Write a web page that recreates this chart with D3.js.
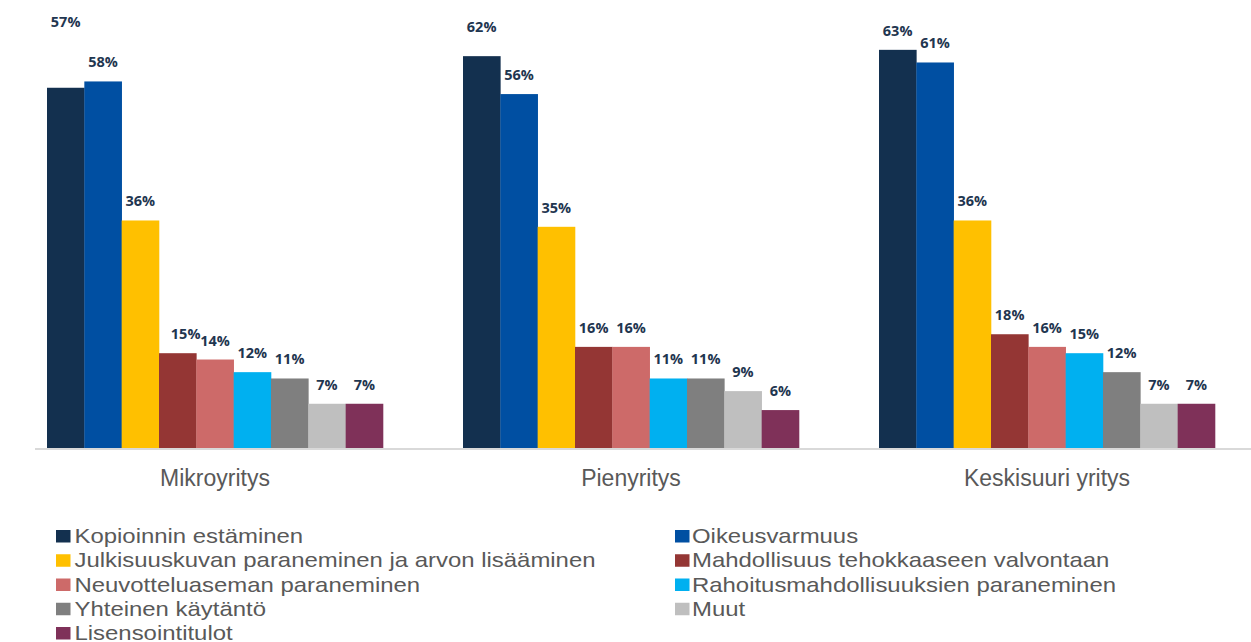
<!DOCTYPE html>
<html><head><meta charset="utf-8">
<script src="https://cdn.jsdelivr.net/npm/d3@7"></script>
<style>body{margin:0;background:#fff}svg{display:block}</style>
</head><body><svg id="c" width="1251" height="642"></svg>
<script>
const groups = ["Mikroyritys", "Pienyritys", "Keskisuuri yritys"];
const series = ["Kopioinnin estäminen","Oikeusvarmuus","Julkisuuskuvan paraneminen ja arvon lisääminen","Mahdollisuus tehokkaaseen valvontaan","Neuvotteluaseman paraneminen","Rahoitusmahdollisuuksien paraneminen","Yhteinen käytäntö","Muut","Lisensointitulot"];
const colors = ["#13304f","#004fa2","#ffc000","#943634","#cd6a69","#00b0f0","#7f7f7f","#bfbfbf","#7f3159"];
const mikro = [57,58,36,15,14,12,11,7,7];
const pieni = [62,56,35,16,16,11,11,9,6];
const keski = [63,61,36,18,16,15,12,7,7];
const values = [mikro, pieni, keski];

// label nudges seen in the reference (group index, series index, dx, dy in px)
const labelNudges = [[0,0,0,-47],[1,0,0,-10],[0,3,8,0]];

const svg = d3.select("#c");
const x0 = d3.scaleBand().domain(groups).range([7,1255]).paddingInner(80/416).paddingOuter(40/416);
const x1 = d3.scaleBand().domain(d3.range(series.length)).range([0, x0.bandwidth()]);
const y = d3.scaleLinear().domain([0,70]).range([448, 448-70*6.32]);

svg.append("line").attr("x1",35).attr("x2",1251).attr("y1",y(0)+1).attr("y2",y(0)+1)
  .attr("stroke","#d9d9d9").attr("stroke-width",2);

groups.forEach((g,gi)=>{
  const gg = svg.append("g").attr("transform",`translate(${x0(g)},0)`);
  values[gi].forEach((v,si)=>{
    gg.append("rect").attr("x",x1(si)).attr("y",y(v)).attr("width",x1.bandwidth()+0.3)
      .attr("height",y(0)-y(v)).attr("fill",colors[si]);
    const n = labelNudges.find(d=>d[0]===gi && d[1]===si) || [gi,si,0,0];
    gg.append("text").attr("x",x1(si)+x1.bandwidth()/2+n[2]).attr("y",y(v)-14+n[3])
      .attr("text-anchor","middle").attr("font-family","Open Sans, sans-serif")
      .attr("font-weight",700).attr("font-size",14.5).attr("fill","#1f3650").text(v+"%");
  });
  svg.append("text").attr("x",x0(g)+x0.bandwidth()/2).attr("y",486)
    .attr("text-anchor","middle").attr("font-family","Liberation Sans, Arial, sans-serif")
    .attr("font-size",23).attr("fill","#595959").text(g);
});

const legCols = [[56,74.5],[675,692]];
series.forEach((s,i)=>{
  const col = i%2, row = Math.floor(i/2);
  const ly = 543 + row*24.25;
  svg.append("rect").attr("x",legCols[col][0]).attr("y",ly-13).attr("width",14.5).attr("height",12.5)
    .attr("fill",colors[i]);
  svg.append("text").attr("transform",`translate(${legCols[col][1]},${ly}) scale(1.167,1)`)
    .attr("font-family","Liberation Sans, Arial, sans-serif")
    .attr("font-size",20.5).attr("fill","#595959").text(s);
});
</script></body></html>
